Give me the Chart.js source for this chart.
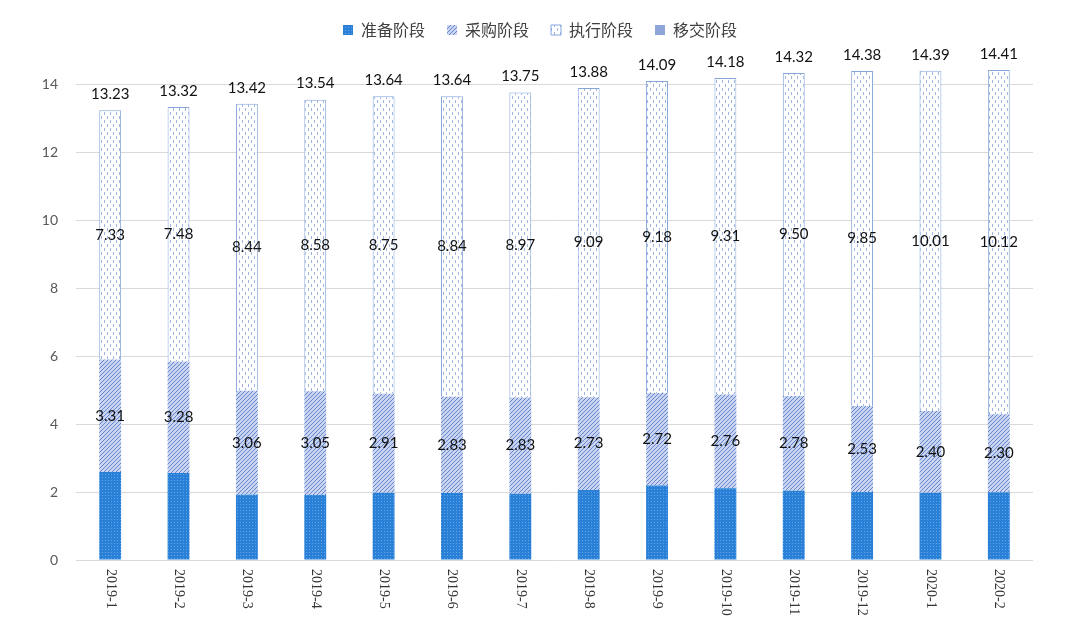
<!DOCTYPE html>
<html>
<head>
<meta charset="utf-8">
<script src="https://cdn.jsdelivr.net/npm/chart.js@4.4.0/dist/chart.umd.min.js"></script>
<style>html,body{margin:0;background:#fff}</style>
</head>
<body>
<canvas id="chart" width="1080" height="627"></canvas>
<script>
const months = ["2019-1","2019-2","2019-3","2019-4","2019-5","2019-6","2019-7","2019-8","2019-9","2019-10","2019-11","2019-12","2020-1","2020-2"];
const seriesNames = ["准备阶段","采购阶段","执行阶段","移交阶段"];
const prep     = [2.59,2.56,1.92,1.91,1.98,1.97,1.95,2.06,2.19,2.11,2.04,2.00,1.98,1.99];
const purchase = [3.31,3.28,3.06,3.05,2.91,2.83,2.83,2.73,2.72,2.76,2.78,2.53,2.40,2.30];
const exec     = [7.33,7.48,8.44,8.58,8.75,8.84,8.97,9.09,9.18,9.31,9.50,9.85,10.01,10.12];
const handover = [0,0,0,0,0,0,0,0,0,0,0,0,0,0];
const totals   = [13.23,13.32,13.42,13.54,13.64,13.64,13.75,13.88,14.09,14.18,14.32,14.38,14.39,14.41];

function makePattern(w, h, draw) {
  const c = document.createElement("canvas");
  c.width = w; c.height = h;
  const g = c.getContext("2d");
  draw(g);
  return document.getElementById("chart").getContext("2d").createPattern(c, "repeat");
}

const prepFill = makePattern(3, 3, g => {
  g.fillStyle = "#2a80d6"; g.fillRect(0, 0, 3, 3);
  g.fillStyle = "#62a6ea"; g.fillRect(0, 0, 1, 1);
});
const purchaseFill = makePattern(4, 4, g => {
  g.fillStyle = "#c9d5f0"; g.fillRect(0, 0, 4, 4);
  g.fillStyle = "#6586cd";
  for (let i = 0; i < 4; i++) g.fillRect(i, 3 - i, 1, 1);
});
const execFill = makePattern(6, 8, g => {
  g.fillStyle = "#ffffff"; g.fillRect(0, 0, 6, 8);
  g.fillStyle = "#9fb6e2";
  g.fillRect(2, 0, 1, 3);
  g.fillRect(5, 4, 1, 3);
});

const dataLabels = {
  id: "dataLabels",
  afterDatasetsDraw(chart) {
    const ctx = chart.ctx;
    ctx.save();
    ctx.font = '15px Lato';
    ctx.fillStyle = "#111";
    ctx.textAlign = "center";
    ctx.textBaseline = "middle";
    [1, 2].forEach(di => {
      const ds = chart.data.datasets[di];
      chart.getDatasetMeta(di).data.forEach((el, i) => {
        ctx.fillText(ds.data[i].toFixed(2), el.x, (el.y + el.base) / 2);
      });
    });
    const y = chart.scales.y;
    chart.getDatasetMeta(2).data.forEach((el, i) => {
      ctx.fillText(totals[i].toFixed(2), el.x, y.getPixelForValue(totals[i]) - 16);
    });
    // x labels, rotated clockwise
    ctx.font = '14px "Liberation Serif"';
    ctx.fillStyle = "#333";
    ctx.textAlign = "left";
    const xs = chart.scales.x;
    months.forEach((m, i) => {
      ctx.save();
      ctx.translate(xs.getPixelForValue(i), chart.chartArea.bottom + 9);
      ctx.rotate(Math.PI / 2);
      ctx.fillText(m, 0, 0);
      ctx.restore();
    });
    ctx.restore();
  }
};

const legendHeight = {
  id: "legendHeight",
  beforeInit(chart) {
    const fit = chart.legend.fit;
    chart.legend.fit = function () {
      fit.call(this);
      this.height = 84;
    };
  }
};

new Chart(document.getElementById("chart"), {
  type: "bar",
  data: {
    labels: months,
    datasets: [
      { label: seriesNames[0], data: prep, backgroundColor: prepFill, borderWidth: 0, clip: false },
      { label: seriesNames[1], data: purchase, backgroundColor: purchaseFill, borderWidth: 0, clip: false },
      { label: seriesNames[2], data: exec, backgroundColor: execFill, borderColor: "#86a6da", borderWidth: 1, clip: false },
      { label: seriesNames[3], data: handover, backgroundColor: "#8ea5d9", borderWidth: 0, clip: false }
    ]
  },
  options: {
    responsive: false,
    animation: false,
    categoryPercentage: 1,
    barPercentage: 0.32,
    layout: { padding: 0 },
    plugins: {
      legend: {
        position: "top",
        labels: {
          boxWidth: 10,
          boxHeight: 10,
          padding: 22,
          color: "#404040",
          font: { family: '"Noto Sans CJK SC"', size: 16 }
        }
      },
      tooltip: { enabled: false }
    },
    scales: {
      x: {
        stacked: true,
        grid: { display: false },
        border: { display: false },
        ticks: { display: false },
        afterFit: s => { s.height = 67; }
      },
      y: {
        stacked: true,
        min: 0,
        max: 14,
        ticks: { stepSize: 2, color: "#595959", padding: 18, font: { family: "Lato", size: 14 } },
        grid: { color: "#d9d9d9", drawTicks: false },
        border: { display: false },
        afterFit: s => { s.width = 76; }
      },
      yRight: {
        position: "right",
        grid: { display: false },
        border: { display: false },
        ticks: { display: false },
        afterFit: s => { s.width = 47; }
      }
    }
  },
  plugins: [legendHeight, dataLabels]
});
</script>
</body>
</html>
